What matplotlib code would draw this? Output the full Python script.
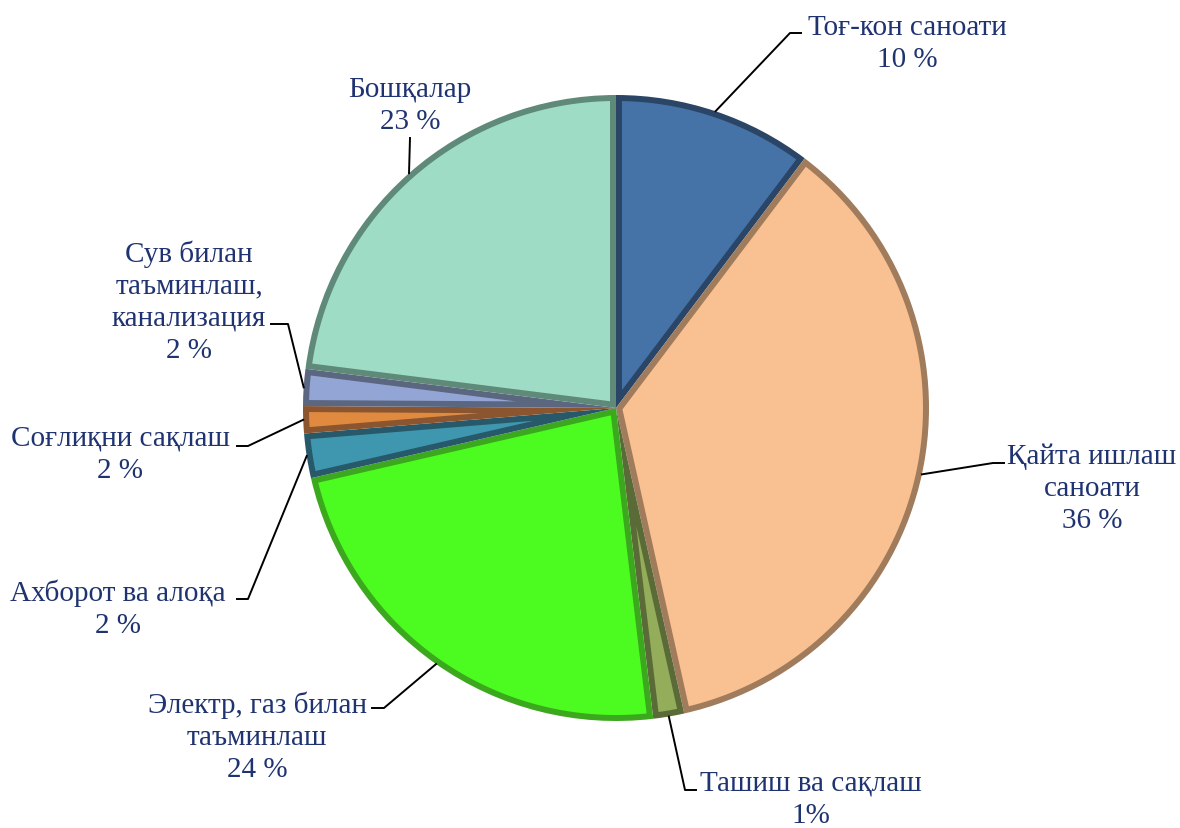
import numpy as np
import matplotlib
matplotlib.use('Agg')
import matplotlib.pyplot as plt
from matplotlib.patches import Polygon

# data (shares, labels as printed)
sectors = ['Тоғ-кон саноати', 'Қайта ишлаш\nсаноати', 'Ташиш ва сақлаш',
           'Электр, газ билан\nтаъминлаш', 'Ахборот ва алоқа', 'Соғлиқни сақлаш',
           'Сув билан\nтаъминлаш,\nканализация', 'Бошқалар']
shares = [10.3, 36.2, 1.6, 23.3, 2.3, 1.4, 1.9, 23.0]
pct_labels = ['10 %', '36 %', '1%', '24 %', '2 %', '2 %', '2 %', '23 %']

# colors
fills = ['#4572a7', '#f9c091', '#93ad5a', '#4cfc20', '#3e97ae', '#e08a40', '#93a5d5', '#9fdcc6']
edges = ['#2a4566', '#a07b5c', '#5b6b38', '#3ca81e', '#27596a', '#8b5530', '#5b6780', '#5f8a7a']
text_color = '#1f3370'

W, H = 1180, 829
cx, cy, R = 616, H - 409, 313
border = 6  # px, inner border of each slice

# label layout in image pixels: (elbow, line end, text centre)
layout = [
    ((790, 34), (801, 34), (907, 44)),
    ((993, 464), (1004, 464), (1092, 489)),
    ((685, 791), (696, 791), (811, 800)),
    ((384, 709), (372, 709), (257, 737)),
    ((248, 600), (237, 600), (118, 609)),
    ((248, 447), (237, 447), (120, 455)),
    ((288, 325), (271, 325), (189, 302)),
    ((410, 139), (410, 139), (410, 106)),
]


def inset_wedge(t1, t2, d):
    # wedge shrunk by d on every side (angles in degrees)
    a1, a2 = np.deg2rad(t1), np.deg2rad(t2)
    half = (a2 - a1) / 2
    rho = R - d
    delta = np.arcsin(d / rho)
    arc = np.linspace(a1 + delta, a2 - delta, 120)
    apex_r = d / np.sin(half)
    apex = (cx + apex_r * np.cos(a1 + half), cy + apex_r * np.sin(a1 + half))
    pts = [apex] + [(cx + rho * np.cos(a), cy + rho * np.sin(a)) for a in arc]
    return np.array(pts)


fig = plt.figure(figsize=(11.8, 8.29), dpi=100)
ax = fig.add_axes([0, 0, 1, 1])

# outer wedges in the border colour, inner fill laid on top
wedges, _ = ax.pie(shares, colors=edges, startangle=90, counterclock=False,
                   center=(cx, cy), radius=R, frame=True,
                   wedgeprops=dict(linewidth=0))
for w, fc in zip(wedges, fills):
    ax.add_patch(Polygon(inset_wedge(w.theta1, w.theta2, border),
                         closed=True, facecolor=fc, edgecolor='none', zorder=2))

ax.set_xlim(0, W)
ax.set_ylim(0, H)
ax.set_aspect('equal')
ax.axis('off')

for w, name, pct, (elbow, end, txt) in zip(wedges, sectors, pct_labels, layout):
    mid = np.deg2rad((w.theta1 + w.theta2) / 2)
    x0 = cx + R * np.cos(mid)
    y0 = cy + R * np.sin(mid)
    ax.plot([x0, elbow[0], end[0]], [y0, H - elbow[1], H - end[1]],
            color='black', lw=1.4, zorder=3)
    ax.text(txt[0], H - txt[1], name + '\n' + pct, ha='center', va='center',
            ma='center', fontsize=21, family='Liberation Serif',
            color=text_color, linespacing=1.3)

fig.savefig('out.png', dpi=100, facecolor='white')
